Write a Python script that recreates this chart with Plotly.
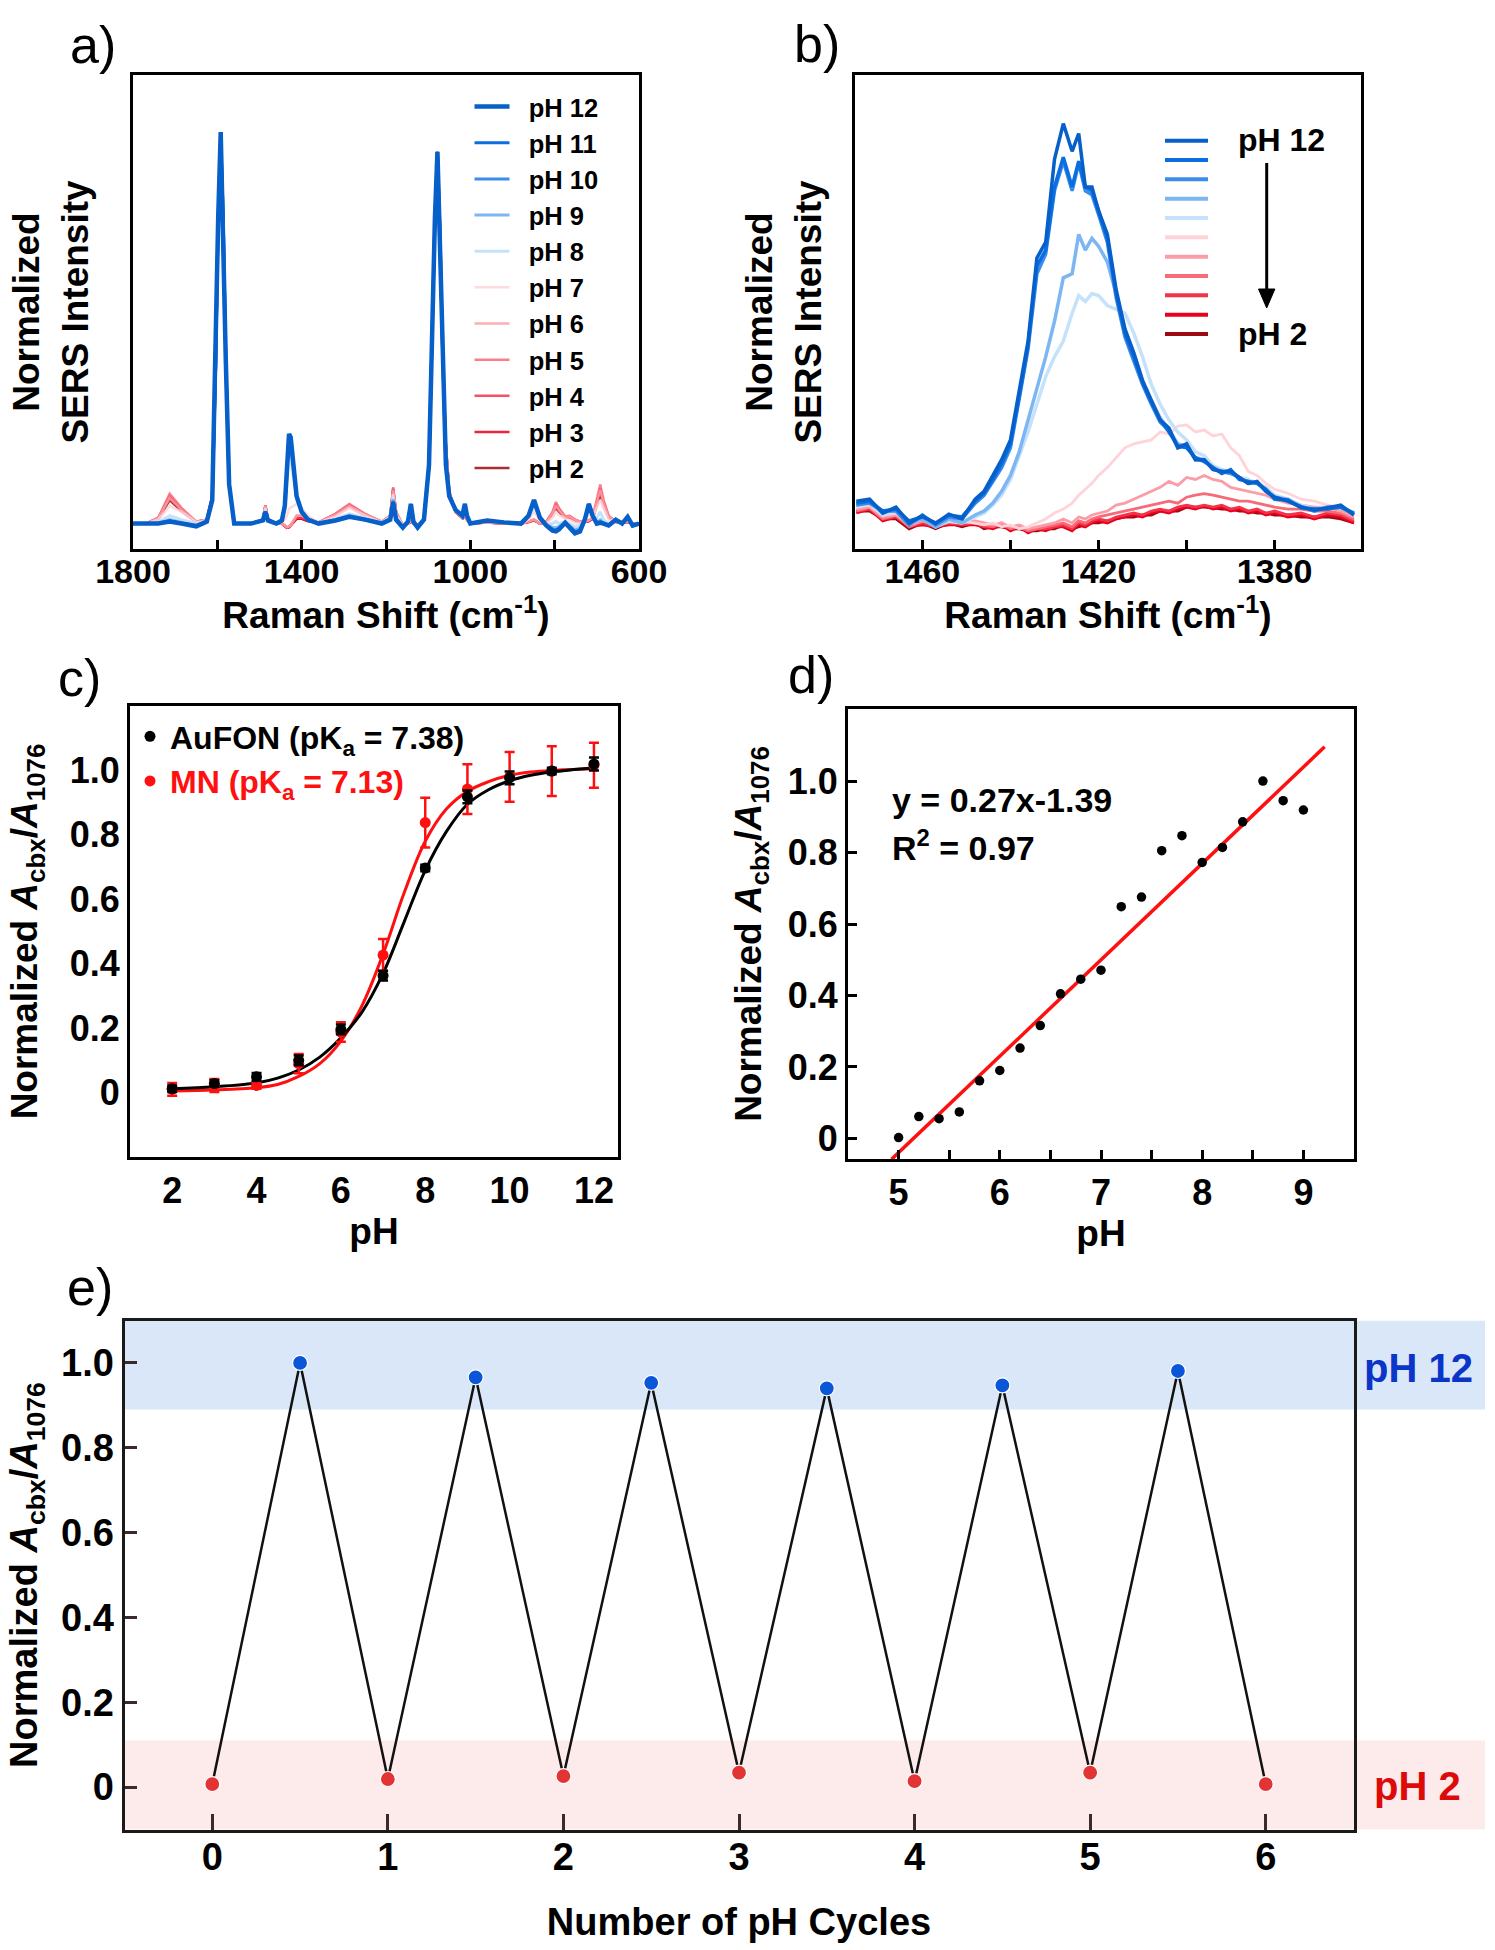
import plotly.graph_objects as go

W, H = 1495, 1950
FONT = "Liberation Sans, Arial, sans-serif"

# ---------------- Panel a: full SERS spectra ----------------
wn_a = [600, 615, 627, 640, 655, 672, 684, 692, 700, 710, 719, 728, 740, 752, 765, 775, 790, 797, 805, 820,
        835, 849, 862, 880, 920, 960, 1000, 1008, 1013, 1019, 1035, 1050, 1058, 1066, 1072, 1078, 1084, 1090, 1098, 1110,
        1125, 1135, 1141, 1148, 1160, 1176, 1183, 1190, 1210, 1250, 1287, 1320, 1360, 1385, 1400, 1412, 1420, 1426, 1430, 1435,
        1440, 1447, 1460, 1480, 1486, 1492, 1520, 1560, 1572, 1580, 1586, 1592, 1598, 1604, 1612, 1625, 1650, 1685, 1713, 1740,
        1770, 1800]

a_ph12 = [0.0, -0.005, 0.017, 0.0, 0.01, -0.005, 0.0, 0.002, 0.0, 0.02, 0.05, 0.012, -0.02, -0.025, -0.01, 0.002, -0.015, -0.02, -0.018, -0.005,
          0.015, 0.06, 0.02, 0.0, 0.003, 0.008, 0.0, 0.02, 0.05, 0.02, 0.035, 0.07, 0.15, 0.45, 0.75, 0.95, 0.78, 0.5, 0.15, 0.01,
          -0.01, 0.005, 0.05, 0.005, -0.01, 0.01, 0.055, 0.01, 0.0, 0.01, 0.017, 0.008, 0.0, 0.01, 0.03, 0.07, 0.15, 0.22, 0.229, 0.12,
          0.045, 0.008, 0.0, 0.008, 0.03, 0.008, 0.0, 0.0, 0.1, 0.42, 0.78, 1.0, 0.78, 0.4, 0.06, 0.005, -0.007, 0.0, 0.005, 0.0,
          0.0, 0.0]
a_ph11 = [0.0, -0.004, 0.015, 0.0, 0.01, -0.004, 0.0, 0.004, 0.0, 0.02, 0.05, 0.012, -0.018, -0.022, -0.008, 0.002, -0.013, -0.018, -0.016, -0.004,
          0.015, 0.058, 0.02, 0.0, 0.003, 0.008, 0.0, 0.02, 0.05, 0.02, 0.035, 0.07, 0.15, 0.45, 0.75, 0.95, 0.78, 0.5, 0.15, 0.01,
          -0.01, 0.005, 0.05, 0.005, -0.01, 0.01, 0.056, 0.01, 0.0, 0.01, 0.018, 0.008, 0.0, 0.01, 0.03, 0.07, 0.15, 0.215, 0.222, 0.118,
          0.044, 0.008, 0.0, 0.008, 0.03, 0.008, 0.0, 0.0, 0.1, 0.42, 0.78, 0.99, 0.78, 0.4, 0.06, 0.005, -0.006, 0.0, 0.006, 0.0,
          0.0, 0.0]
a_ph10 = [0.0, -0.004, 0.015, 0.0, 0.01, -0.004, 0.0, 0.005, 0.0, 0.02, 0.048, 0.012, -0.016, -0.02, -0.007, 0.003, -0.012, -0.016, -0.015, -0.004,
          0.015, 0.056, 0.02, 0.0, 0.003, 0.008, 0.0, 0.02, 0.05, 0.02, 0.035, 0.07, 0.15, 0.45, 0.75, 0.95, 0.78, 0.5, 0.15, 0.01,
          -0.009, 0.005, 0.048, 0.005, -0.009, 0.012, 0.058, 0.012, 0.0, 0.011, 0.019, 0.009, 0.0, 0.01, 0.03, 0.068, 0.148, 0.212, 0.22, 0.116,
          0.043, 0.008, 0.0, 0.008, 0.031, 0.008, 0.0, 0.0, 0.1, 0.42, 0.78, 0.99, 0.78, 0.4, 0.06, 0.005, -0.005, 0.001, 0.007, 0.0,
          0.0, 0.0]
a_ph9 = [0.0, -0.003, 0.014, 0.002, 0.01, -0.003, 0.002, 0.01, 0.003, 0.02, 0.046, 0.012, -0.012, -0.016, -0.005, 0.004, -0.008, -0.01, -0.01, -0.003,
         0.015, 0.054, 0.02, 0.0, 0.003, 0.008, 0.0, 0.02, 0.048, 0.02, 0.035, 0.07, 0.15, 0.45, 0.75, 0.95, 0.78, 0.5, 0.15, 0.01,
         -0.008, 0.004, 0.045, 0.004, -0.008, 0.014, 0.062, 0.013, 0.0, 0.012, 0.021, 0.01, 0.0, 0.01, 0.03, 0.065, 0.14, 0.2, 0.208, 0.11,
         0.04, 0.008, 0.0, 0.008, 0.032, 0.008, 0.0, 0.0, 0.1, 0.42, 0.78, 0.99, 0.78, 0.4, 0.06, 0.005, -0.004, 0.003, 0.01, 0.001,
         0.0, 0.0]
a_ph8 = [0.0, -0.002, 0.012, 0.003, 0.01, 0.0, 0.01, 0.03, 0.015, 0.018, 0.04, 0.01, -0.005, -0.008, 0.0, 0.006, 0.0, 0.005, 0.0, -0.002,
         0.012, 0.045, 0.018, 0.0, 0.003, 0.008, 0.0, 0.018, 0.04, 0.018, 0.035, 0.072, 0.16, 0.45, 0.74, 0.94, 0.77, 0.49, 0.15, 0.01,
         -0.006, 0.003, 0.035, 0.003, -0.006, 0.018, 0.068, 0.015, 0.002, 0.015, 0.025, 0.012, 0.0, 0.01, 0.03, 0.06, 0.12, 0.165, 0.17, 0.09,
         0.035, 0.007, 0.0, 0.009, 0.035, 0.009, 0.0, 0.0, 0.1, 0.42, 0.78, 0.99, 0.77, 0.4, 0.06, 0.006, 0.0, 0.01, 0.02, 0.004,
         0.0, 0.0]
a_ph7 = [0.0, 0.0, 0.008, 0.004, 0.008, 0.01, 0.04, 0.06, 0.04, 0.017, 0.025, 0.008, 0.0, 0.002, 0.01, 0.012, 0.022, 0.03, 0.015, 0.0,
         0.008, 0.03, 0.01, 0.0, 0.002, 0.005, 0.0, 0.012, 0.03, 0.016, 0.033, 0.075, 0.18, 0.45, 0.73, 0.93, 0.77, 0.49, 0.145, 0.01,
         -0.006, 0.002, 0.02, 0.002, -0.006, 0.024, 0.075, 0.017, 0.003, 0.02, 0.04, 0.018, 0.002, 0.02, 0.04, 0.05, 0.045, 0.04, 0.038, 0.02,
         0.01, 0.004, 0.0, 0.01, 0.04, 0.01, 0.0, 0.0, 0.1, 0.42, 0.77, 0.98, 0.76, 0.39, 0.065, 0.008, 0.003, 0.03, 0.045, 0.01,
         0.0, 0.0]
a_ph6 = [0.0, 0.0, 0.005, 0.005, 0.005, 0.018, 0.05, 0.085, 0.05, 0.014, 0.008, 0.005, 0.005, 0.009, 0.018, 0.016, 0.034, 0.045, 0.026, 0.004,
         0.0, 0.01, 0.005, 0.0, 0.0, 0.003, 0.0, 0.01, 0.02, 0.015, 0.03, 0.08, 0.2, 0.45, 0.72, 0.92, 0.76, 0.48, 0.14, 0.01,
         -0.005, 0.0, 0.005, 0.0, -0.005, 0.028, 0.085, 0.019, 0.005, 0.023, 0.045, 0.022, 0.003, 0.01, 0.02, 0.02, 0.006, -0.004, -0.007, -0.009,
         -0.005, 0.0, 0.0, 0.011, 0.045, 0.01, 0.0, 0.0, 0.1, 0.42, 0.77, 0.97, 0.75, 0.38, 0.07, 0.01, 0.005, 0.035, 0.065, 0.013,
         0.0, 0.0]
a_ph5 = [0.0, 0.0, 0.005, 0.005, 0.005, 0.02, 0.06, 0.1, 0.06, 0.015, 0.008, 0.005, 0.005, 0.01, 0.02, 0.018, 0.04, 0.055, 0.03, 0.005,
         0.0, 0.01, 0.005, 0.0, 0.0, 0.003, 0.0, 0.01, 0.02, 0.015, 0.03, 0.08, 0.2, 0.45, 0.72, 0.92, 0.76, 0.48, 0.14, 0.01,
         -0.005, 0.0, 0.005, 0.0, -0.005, 0.03, 0.093, 0.02, 0.005, 0.025, 0.05, 0.025, 0.003, 0.01, 0.02, 0.02, 0.005, -0.005, -0.008, -0.01,
         -0.005, 0.0, 0.0, 0.012, 0.047, 0.01, 0.0, 0.0, 0.1, 0.42, 0.77, 0.97, 0.75, 0.38, 0.07, 0.01, 0.005, 0.04, 0.076, 0.015,
         0.0, 0.0]
a_ph4 = [0.0, 0.0, 0.005, 0.004, 0.005, 0.019, 0.055, 0.09, 0.055, 0.014, 0.007, 0.005, 0.004, 0.01, 0.019, 0.017, 0.037, 0.05, 0.028, 0.004,
         0.0, 0.01, 0.004, 0.0, 0.0, 0.003, 0.0, 0.01, 0.02, 0.015, 0.03, 0.08, 0.2, 0.45, 0.72, 0.92, 0.76, 0.48, 0.14, 0.01,
         -0.005, 0.0, 0.004, 0.0, -0.005, 0.029, 0.09, 0.02, 0.004, 0.024, 0.048, 0.024, 0.003, 0.008, 0.015, 0.015, 0.003, -0.006, -0.009, -0.011,
         -0.006, 0.0, 0.0, 0.012, 0.046, 0.01, 0.0, 0.0, 0.1, 0.42, 0.77, 0.97, 0.75, 0.38, 0.07, 0.01, 0.004, 0.037, 0.07, 0.014,
         0.0, 0.0]
a_ph3 = [0.0, 0.0, 0.004, 0.004, 0.004, 0.017, 0.05, 0.08, 0.05, 0.013, 0.007, 0.004, 0.004, 0.009, 0.017, 0.016, 0.033, 0.045, 0.026, 0.004,
         0.0, 0.009, 0.004, 0.0, 0.0, 0.003, 0.0, 0.01, 0.019, 0.014, 0.03, 0.08, 0.2, 0.45, 0.72, 0.92, 0.76, 0.48, 0.14, 0.01,
         -0.005, 0.0, 0.004, 0.0, -0.005, 0.027, 0.087, 0.019, 0.004, 0.022, 0.046, 0.023, 0.002, 0.007, 0.013, 0.013, 0.002, -0.006, -0.009, -0.011,
         -0.006, 0.0, 0.0, 0.011, 0.045, 0.01, 0.0, 0.0, 0.1, 0.42, 0.77, 0.97, 0.75, 0.38, 0.07, 0.01, 0.004, 0.034, 0.065, 0.013,
         0.0, 0.0]
a_ph2 = [0.0, 0.0, 0.004, 0.003, 0.004, 0.016, 0.047, 0.075, 0.047, 0.012, 0.006, 0.004, 0.003, 0.008, 0.016, 0.015, 0.03, 0.04, 0.024, 0.003,
         0.0, 0.008, 0.004, 0.0, 0.0, 0.003, 0.0, 0.009, 0.018, 0.014, 0.03, 0.08, 0.2, 0.45, 0.72, 0.92, 0.76, 0.48, 0.14, 0.01,
         -0.005, 0.0, 0.004, 0.0, -0.005, 0.026, 0.085, 0.018, 0.004, 0.021, 0.044, 0.022, 0.002, 0.006, 0.012, 0.012, 0.002, -0.006, -0.009, -0.011,
         -0.006, 0.0, 0.0, 0.011, 0.044, 0.01, 0.0, 0.0, 0.1, 0.42, 0.77, 0.97, 0.75, 0.38, 0.07, 0.01, 0.004, 0.032, 0.06, 0.012,
         0.0, 0.0]

# ---------------- Panel b: zoom on the carboxylate band ----------------
wn_b = [1475, 1472, 1469, 1466, 1463, 1460, 1457, 1454, 1451, 1448, 1446, 1444, 1442, 1440, 1438, 1436, 1434, 1432, 1430, 1428,
        1426, 1424.5, 1423, 1421.5, 1420, 1418, 1416, 1414, 1412, 1410, 1408, 1406, 1404, 1402, 1400, 1398, 1396, 1394, 1392, 1390,
        1388, 1386, 1384, 1382, 1380, 1377, 1374, 1371, 1368, 1365, 1362]

b_ph12 = [0.045, 0.05, 0.015, 0.03, -0.01, 0.008, -0.012, 0.012, 0.0, 0.05, 0.07, 0.11, 0.15, 0.20, 0.32, 0.45, 0.66, 0.70, 0.91, 1.0,
          0.93, 0.975, 0.84, 0.84, 0.78, 0.72, 0.58, 0.48, 0.42, 0.35, 0.30, 0.25, 0.23, 0.18, 0.19, 0.15, 0.15, 0.125, 0.12, 0.12,
          0.105, 0.09, 0.095, 0.07, 0.055, 0.045, 0.03, 0.022, 0.028, 0.035, 0.01]
b_ph11 = [0.04, 0.045, 0.02, 0.025, -0.005, 0.005, -0.01, 0.01, 0.005, 0.045, 0.065, 0.10, 0.14, 0.19, 0.31, 0.44, 0.64, 0.68, 0.84, 0.915,
          0.84, 0.905, 0.84, 0.83, 0.78, 0.71, 0.57, 0.47, 0.41, 0.345, 0.295, 0.25, 0.22, 0.185, 0.18, 0.155, 0.145, 0.13, 0.115, 0.125,
          0.10, 0.095, 0.09, 0.075, 0.05, 0.048, 0.028, 0.025, 0.025, 0.03, 0.015]
b_ph10 = [0.035, 0.04, 0.02, 0.02, -0.015, 0.01, -0.015, 0.005, 0.0, 0.04, 0.06, 0.095, 0.13, 0.18, 0.30, 0.43, 0.62, 0.67, 0.83, 0.905,
          0.83, 0.9, 0.83, 0.82, 0.77, 0.70, 0.56, 0.46, 0.40, 0.34, 0.29, 0.245, 0.225, 0.18, 0.185, 0.15, 0.15, 0.125, 0.12, 0.115,
          0.105, 0.09, 0.092, 0.07, 0.055, 0.045, 0.032, 0.02, 0.03, 0.03, 0.012]
b_ph9 = [0.035, 0.045, 0.015, 0.025, -0.01, 0.0, -0.02, 0.0, -0.01, 0.01, 0.02, 0.04, 0.07, 0.11, 0.17, 0.25, 0.33, 0.41, 0.5, 0.61,
         0.62, 0.72, 0.68, 0.71, 0.69, 0.65, 0.57, 0.48, 0.42, 0.35, 0.30, 0.255, 0.225, 0.19, 0.185, 0.155, 0.15, 0.13, 0.12, 0.12,
         0.10, 0.095, 0.09, 0.075, 0.055, 0.05, 0.03, 0.025, 0.028, 0.03, 0.012]
b_ph8 = [0.03, 0.04, 0.01, 0.02, -0.015, 0.005, -0.02, -0.005, -0.01, 0.005, 0.015, 0.035, 0.06, 0.10, 0.16, 0.22, 0.29, 0.36, 0.41, 0.45,
         0.52, 0.565, 0.55, 0.57, 0.565, 0.54, 0.53, 0.52, 0.47, 0.41, 0.34, 0.29, 0.25, 0.22, 0.2, 0.17, 0.16, 0.135, 0.125, 0.12,
         0.105, 0.1, 0.09, 0.08, 0.06, 0.05, 0.035, 0.025, 0.03, 0.032, 0.015]
b_ph7 = [0.03, 0.035, 0.01, 0.015, -0.01, 0.0, -0.01, 0.0, -0.005, -0.01, -0.015, -0.01, -0.02, -0.015, -0.025, -0.02, -0.01, 0.0, 0.015, 0.025,
         0.04, 0.06, 0.075, 0.09, 0.11, 0.13, 0.155, 0.18, 0.19, 0.195, 0.20, 0.22, 0.215, 0.235, 0.238, 0.22, 0.225, 0.21, 0.215, 0.18,
         0.16, 0.12, 0.11, 0.09, 0.075, 0.065, 0.05, 0.045, 0.035, 0.03, 0.01]
b_ph6 = [0.025, 0.03, 0.005, 0.01, -0.015, -0.005, -0.015, -0.005, -0.01, -0.005, -0.01, -0.015, -0.01, -0.02, -0.015, -0.025, -0.02, -0.015, -0.01, 0.0,
         -0.01, 0.005, 0.0, 0.01, 0.015, 0.02, 0.035, 0.04, 0.05, 0.06, 0.07, 0.08, 0.095, 0.085, 0.105, 0.1, 0.11, 0.1, 0.095, 0.08,
         0.075, 0.07, 0.065, 0.06, 0.05, 0.04, 0.035, 0.03, 0.03, 0.02, 0.005]
b_ph5 = [0.02, 0.03, 0.0, 0.01, -0.02, -0.005, -0.015, -0.01, -0.01, -0.01, -0.015, -0.02, -0.01, -0.025, -0.02, -0.03, -0.025, -0.02, -0.015, -0.01,
         -0.02, -0.005, -0.01, 0.0, 0.005, 0.01, 0.015, 0.02, 0.025, 0.03, 0.035, 0.04, 0.045, 0.04, 0.055, 0.06, 0.064, 0.06, 0.055, 0.05,
         0.045, 0.045, 0.04, 0.035, 0.03, 0.025, 0.025, 0.02, 0.02, 0.015, 0.0]
b_ph4 = [0.02, 0.025, 0.0, 0.005, -0.02, -0.01, -0.02, -0.01, -0.015, -0.01, -0.02, -0.02, -0.015, -0.025, -0.02, -0.03, -0.025, -0.025, -0.02, -0.015,
         -0.025, -0.01, -0.015, -0.005, 0.0, -0.005, 0.005, 0.01, 0.015, 0.01, 0.02, 0.025, 0.02, 0.03, 0.035, 0.03, 0.035, 0.03, 0.035, 0.025,
         0.03, 0.02, 0.025, 0.015, 0.02, 0.01, 0.015, 0.005, 0.015, 0.01, -0.005]
b_ph3 = [0.015, 0.025, -0.005, 0.005, -0.02, -0.015, -0.02, -0.015, -0.015, -0.015, -0.02, -0.025, -0.015, -0.03, -0.02, -0.035, -0.025, -0.03, -0.02, -0.02,
         -0.03, -0.015, -0.02, -0.01, -0.005, -0.01, 0.0, 0.005, 0.01, 0.005, 0.015, 0.02, 0.015, 0.025, 0.03, 0.025, 0.033, 0.025, 0.03, 0.02,
         0.025, 0.015, 0.02, 0.01, 0.015, 0.005, 0.01, 0.0, 0.01, 0.005, -0.01]
b_ph2 = [0.02, 0.02, 0.0, 0.0, -0.025, -0.01, -0.025, -0.01, -0.02, -0.01, -0.025, -0.02, -0.02, -0.025, -0.025, -0.03, -0.03, -0.025, -0.025, -0.015,
         -0.025, -0.02, -0.015, -0.01, -0.01, -0.005, 0.0, 0.005, 0.005, 0.01, 0.01, 0.02, 0.02, 0.02, 0.03, 0.03, 0.03, 0.028, 0.025, 0.025,
         0.02, 0.02, 0.015, 0.015, 0.01, 0.01, 0.005, 0.005, 0.005, 0.0, -0.01]

ph_labels = ["pH 2", "pH 3", "pH 4", "pH 5", "pH 6", "pH 7", "pH 8", "pH 9", "pH 10", "pH 11", "pH 12"]
ph_colors = ["#9b0a12", "#e8001c", "#f2334a", "#f76a78", "#fb9da6", "#ffd3d8",
             "#c6e2fb", "#7cb6f3", "#3a8ceb", "#0a6ee0", "#075fc9"]
spectra_a = [a_ph2, a_ph3, a_ph4, a_ph5, a_ph6, a_ph7, a_ph8, a_ph9, a_ph10, a_ph11, a_ph12]
spectra_b = [b_ph2, b_ph3, b_ph4, b_ph5, b_ph6, b_ph7, b_ph8, b_ph9, b_ph10, b_ph11, b_ph12]

# ---------------- Panel c: titration ----------------
ph_c = [2, 3, 4, 5, 6, 7, 8, 9, 10, 11, 12]
aufon_y = [0.012, 0.028, 0.049, 0.10, 0.196, 0.363, 0.697, 0.918, 0.977, 0.998, 1.02]
aufon_err = [0.01, 0.01, 0.012, 0.015, 0.015, 0.015, 0.01, 0.02, 0.02, 0.01, 0.02]
mn_y = [0.01, 0.022, 0.022, 0.09, 0.188, 0.427, 0.838, 0.942, 0.98, 0.998, 1.016]
mn_err = [0.02, 0.02, 0.01, 0.03, 0.03, 0.05, 0.077, 0.077, 0.077, 0.077, 0.07]
fit_ph = [2, 3, 4, 4.5, 5, 5.5, 6, 6.5, 7, 7.5, 8, 8.5, 9, 9.5, 10, 10.5, 11, 12]
aufon_fit = [0.012, 0.018, 0.03, 0.045, 0.07, 0.11, 0.17, 0.25, 0.37, 0.53, 0.69, 0.81, 0.895, 0.94, 0.968, 0.985, 0.995, 1.008]
mn_fit = [0.005, 0.008, 0.015, 0.025, 0.05, 0.09, 0.16, 0.27, 0.43, 0.62, 0.78, 0.88, 0.935, 0.965, 0.985, 0.995, 1.0, 1.005]

# ---------------- Panel d: linear range ----------------
ph_d = [5.0, 5.2, 5.4, 5.6, 5.8, 6.0, 6.2, 6.4, 6.6, 6.8, 7.0, 7.2, 7.4, 7.6, 7.8, 8.0, 8.2, 8.4, 8.6, 8.8, 9.0]
ratio_d = [0.002, 0.061, 0.055, 0.074, 0.161, 0.19, 0.253, 0.316, 0.405, 0.446, 0.471, 0.649, 0.676, 0.806, 0.848,
           0.773, 0.815, 0.887, 1.001, 0.946, 0.92]
lin_x = [4.93, 9.21]
lin_y = [-0.059, 1.097]

# ---------------- Panel e: reversibility ----------------
cycle_x = [0, 0.5, 1, 1.5, 2, 2.5, 3, 3.5, 4, 4.5, 5, 5.5, 6]
cycle_y = [0.007, 1.0, 0.019, 0.966, 0.026, 0.953, 0.034, 0.94, 0.014, 0.947, 0.034, 0.981, 0.007]
cycle_state = ["pH 2", "pH 12", "pH 2", "pH 12", "pH 2", "pH 12", "pH 2", "pH 12", "pH 2", "pH 12", "pH 2", "pH 12", "pH 2"]

# ================= figure =================
def px(x):
    return x / W

def py(y):
    return 1 - y / H

fig = go.Figure()

BLUES = ("pH 8", "pH 9", "pH 10", "pH 11", "pH 12")
# panel a traces (pH 2 first so that pH 12 is drawn on top)
for lab, col, ys in zip(ph_labels, ph_colors, spectra_a):
    blue = lab in BLUES
    fig.add_trace(go.Scatter(x=wn_a, y=ys, mode="lines", name="  " + lab,
                             line=dict(color=col, width=4.5 if lab == "pH 12" else (3 if blue else 2.5)),
                             opacity=1 if blue else 0.85,
                             xaxis="x", yaxis="y", legend="legend", showlegend=True))
# panel b traces
for lab, col, ys in zip(ph_labels, ph_colors, spectra_b):
    blue = lab in BLUES
    fig.add_trace(go.Scatter(x=wn_b, y=ys, mode="lines", name=lab,
                             line=dict(color=col, width=3.5 if blue else 2.8),
                             xaxis="x2", yaxis="y2", showlegend=False))

# panel c
fig.add_trace(go.Scatter(x=fit_ph, y=mn_fit, mode="lines", line=dict(color="#ff1010", width=3, shape="spline"),
                         xaxis="x3", yaxis="y3", showlegend=False))
fig.add_trace(go.Scatter(x=fit_ph, y=aufon_fit, mode="lines", line=dict(color="black", width=3, shape="spline"),
                         xaxis="x3", yaxis="y3", showlegend=False))
fig.add_trace(go.Scatter(x=ph_c, y=mn_y, mode="markers", name='<span style="color:#ff1010">MN (pK<sub>a</sub> = 7.13)</span>',
                         marker=dict(color="#ff1010", size=11),
                         error_y=dict(type="data", array=mn_err, color="#ff1010", thickness=2.5, width=5),
                         xaxis="x3", yaxis="y3", legend="legend2", legendrank=2))
fig.add_trace(go.Scatter(x=ph_c, y=aufon_y, mode="markers", name="AuFON (pK<sub>a</sub> = 7.38)",
                         marker=dict(color="black", size=11),
                         error_y=dict(type="data", array=aufon_err, color="black", thickness=2.5, width=5),
                         xaxis="x3", yaxis="y3", legend="legend2", legendrank=1))

# panel d
fig.add_trace(go.Scatter(x=lin_x, y=lin_y, mode="lines", line=dict(color="#ff1010", width=3.5),
                         xaxis="x4", yaxis="y4", showlegend=False))
fig.add_trace(go.Scatter(x=ph_d, y=ratio_d, mode="markers", marker=dict(color="black", size=9.5),
                         xaxis="x4", yaxis="y4", showlegend=False))

# panel e
fig.add_trace(go.Scatter(x=cycle_x, y=cycle_y, mode="lines+markers",
                         line=dict(color="#111111", width=2.5),
                         marker=dict(size=15, color=["#0a55d8" if s == "pH 12" else "#e23434" for s in cycle_state],
                                     line=dict(color="white", width=1.2)),
                         xaxis="x5", yaxis="y5", showlegend=False))

axis_common = dict(showline=True, linecolor="black", linewidth=3, mirror=True, showgrid=False, zeroline=False,
                   automargin=False,
                   tickfont=dict(family=FONT, size=34, color="black", weight="bold"),
                   title_font=dict(family=FONT, size=37, color="black", weight="bold"))
tick_in = dict(ticks="inside", ticklen=9, tickwidth=3, tickcolor="black")
tickfont36 = dict(family=FONT, size=36, color="black", weight="bold")
title38 = dict(family=FONT, size=38, color="black", weight="bold")
frac_ticks = dict(tickvals=[0, 0.2, 0.4, 0.6, 0.8, 1.0], ticktext=["0", "0.2", "0.4", "0.6", "0.8", "1.0"])
ytitle_cde = "Normalized <i>A</i><sub>cbx</sub>/<i>A</i><sub>1076</sub>"

dom_a_x = [px(133), px(639)]
dom_b_x = [px(855), px(1361)]
dom_ab_y = [py(549), py(75)]
dom_c_x = [px(130), px(618)]
dom_c_y = [py(1157), py(706)]
dom_d_x = [px(848), px(1354)]
dom_d_y = [py(1159), py(709)]
dom_e_x = [px(124.5), px(1353.5)]
dom_e_y = [py(1829.5), py(1320.5)]

fig.update_layout(
    width=W, height=H, margin=dict(l=0, r=0, t=0, b=0, autoexpand=False),
    paper_bgcolor="white", plot_bgcolor="white",
    font=dict(family=FONT, color="black"),
    xaxis=dict(axis_common, domain=dom_a_x, anchor="y", range=[1800, 600],
               tickvals=[1800, 1400, 1000, 600], **tick_in, ticklabelstandoff=-10,
               minor=dict(tickvals=[1600, 1200, 800], **tick_in),
               title=dict(text="Raman Shift (cm<sup>-1</sup>)", standoff=0)),
    yaxis=dict(axis_common, domain=dom_ab_y, anchor="x", range=[-0.065, 1.146],
               showticklabels=False, ticks="",
               title=dict(text="Normalized<br>SERS Intensity", standoff=31)),
    xaxis2=dict(axis_common, domain=dom_b_x, anchor="y2", range=[1475.3, 1360.4],
                tickvals=[1460, 1420, 1380], **tick_in, ticklabelstandoff=-10,
                minor=dict(tickvals=[1440, 1400], **tick_in),
                title=dict(text="Raman Shift (cm<sup>-1</sup>)", standoff=0)),
    yaxis2=dict(axis_common, domain=dom_ab_y, anchor="x2", range=[-0.076, 1.123],
                showticklabels=False, ticks="",
                title=dict(text="Normalized<br>SERS Intensity", standoff=20)),
    xaxis3=dict(axis_common, domain=dom_c_x, anchor="y3", range=[1.0, 12.57],
                tickvals=[2, 4, 6, 8, 10, 12], ticks="", tickfont=tickfont36,
                title=dict(text="pH", standoff=0)),
    yaxis3=dict(axis_common, domain=dom_c_y, anchor="x3", range=[-0.2, 1.2], **frac_ticks,
                ticks="", tickfont=tickfont36,
                title=dict(text=ytitle_cde, standoff=21)),
    xaxis4=dict(axis_common, domain=dom_d_x, anchor="y4", range=[4.5, 9.5],
                tickvals=[5, 6, 7, 8, 9], **tick_in, tickfont=tickfont36,
                minor=dict(tickvals=[5.5, 6.5, 7.5, 8.5], **tick_in),
                title=dict(text="pH", standoff=0)),
    yaxis4=dict(axis_common, domain=dom_d_y, anchor="x4", range=[-0.058, 1.203], **frac_ticks,
                **tick_in, tickfont=tickfont36,
                title=dict(text=ytitle_cde, standoff=15)),
    xaxis5=dict(axis_common, domain=dom_e_x, anchor="y5", range=[-0.5, 6.5],
                tickvals=[0, 1, 2, 3, 4, 5, 6], ticks="inside", ticklen=16, tickwidth=3, tickcolor="#3a2a2a",
                linecolor="#1a1a1a", ticklabelstandoff=-8,
                tickfont=dict(family=FONT, size=38, color="black", weight="bold"),
                title=dict(text="Number of pH Cycles", standoff=32, font=title38)),
    yaxis5=dict(axis_common, domain=dom_e_y, anchor="x5", range=[-0.1, 1.1], **frac_ticks,
                ticks="inside", ticklen=12, tickwidth=3, tickcolor="#3a2a2a", linecolor="#1a1a1a",
                tickfont=dict(family=FONT, size=38, color="black", weight="bold"),
                title=dict(text=ytitle_cde, standoff=12, font=title38)),
    legend=dict(x=px(469.5), y=py(83.5), xanchor="left", yanchor="top", traceorder="reversed",
                bgcolor="rgba(0,0,0,0)", borderwidth=0, itemwidth=35,
                font=dict(family=FONT, size=25.5, color="black", weight="bold")),
    legend2=dict(x=px(130), y=py(709), xanchor="left", yanchor="top",
                 bgcolor="rgba(0,0,0,0)", borderwidth=0,
                 font=dict(family=FONT, size=32, color="black", weight="bold")),
)

# pH bands in panel e (extend beyond the frame up to the labels)
fig.add_shape(type="rect", xref="paper", yref="y5", x0=dom_e_x[0], x1=px(1485), y0=0.89, y1=1.1,
              fillcolor="#dae7f8", line=dict(width=0), layer="below")
fig.add_shape(type="rect", xref="paper", yref="y5", x0=dom_e_x[0], x1=px(1485), y0=-0.1, y1=0.11,
              fillcolor="#fdeaea", line=dict(width=0), layer="below")

# key of panel b: one swatch per pH (pH 12 on top), caption text and arrow
for i, col in enumerate(reversed(ph_colors)):
    yk = 140.7 + i * 19.33
    fig.add_shape(type="line", xref="paper", yref="paper", x0=px(1165), x1=px(1208), y0=py(yk), y1=py(yk),
                  line=dict(color=col, width=4))
fig.add_shape(type="line", xref="paper", yref="paper", x0=px(1266.7), x1=px(1266.7), y0=py(163), y1=py(292),
              line=dict(color="black", width=3))
fig.add_shape(type="path", xref="paper", yref="paper",
              path=f"M {px(1258.5)} {py(289)} L {px(1274.9)} {py(289)} L {px(1266.7)} {py(308)} Z",
              fillcolor="black", line=dict(color="black", width=1))

ann = []
for lab, (cx, cy) in {"a)": (93, 45), "b)": (817, 44), "c)": (79, 678), "d)": (811, 675), "e)": (90, 1287)}.items():
    ann.append(dict(text=lab, x=px(cx), y=py(cy), xref="paper", yref="paper", showarrow=False,
                    xanchor="center", yanchor="middle", font=dict(family=FONT, size=52, color="black")))
ann.append(dict(text="pH 12", x=px(1236), y=py(140), xref="paper", yref="paper", showarrow=False,
                xanchor="left", yanchor="middle", font=dict(family=FONT, size=32, color="black", weight="bold")))
ann.append(dict(text="pH 2", x=px(1236), y=py(334), xref="paper", yref="paper", showarrow=False,
                xanchor="left", yanchor="middle", font=dict(family=FONT, size=32, color="black", weight="bold")))
ann.append(dict(text="y = 0.27x-1.39", x=px(890), y=py(800), xref="paper", yref="paper", showarrow=False,
                xanchor="left", yanchor="middle", font=dict(family=FONT, size=34, color="black", weight="bold")))
ann.append(dict(text="R<sup>2</sup> = 0.97", x=px(890), y=py(846), xref="paper", yref="paper", showarrow=False,
                xanchor="left", yanchor="middle", font=dict(family=FONT, size=34, color="black", weight="bold")))
ann.append(dict(text="pH 12", x=px(1418), y=py(1368), xref="paper", yref="paper", showarrow=False,
                xanchor="center", yanchor="middle", font=dict(family=FONT, size=40, color="#0a35c8", weight="bold")))
ann.append(dict(text="pH 2", x=px(1417), y=py(1786), xref="paper", yref="paper", showarrow=False,
                xanchor="center", yanchor="middle", font=dict(family=FONT, size=40, color="#dd0a0a", weight="bold")))
fig.update_layout(annotations=ann)

fig.write_html("out.html", config={"displayModeBar": False},
               post_script="document.body.style.margin='0';document.body.style.overflow='hidden';")
